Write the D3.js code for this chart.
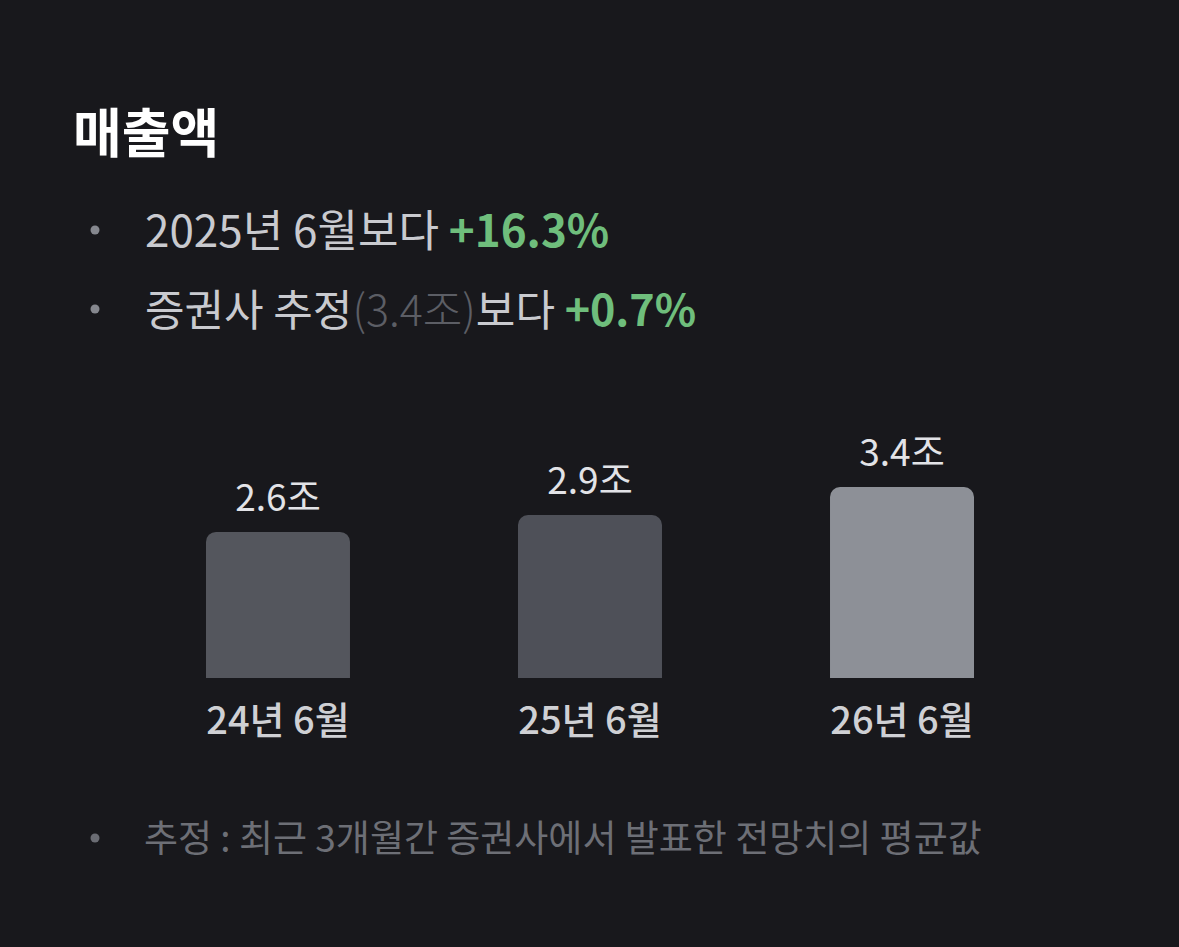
<!DOCTYPE html>
<html><head><meta charset="utf-8">
<script src="https://cdn.jsdelivr.net/npm/d3@7"></script>
<style>
html,body{margin:0;padding:0;background:#18181c;}
svg{display:block;}
text{font-family:"Noto Sans CJK KR","Noto Sans",sans-serif;}
</style></head>
<body>
<svg id="chart" width="1179" height="947"></svg>
<script>
const title = "매출액";
const categories = ["24년 6월", "25년 6월", "26년 6월"];
const values = [2.6, 2.9, 3.4];
const valueLabels = ["2.6조", "2.9조", "3.4조"];
const barColors = ["#54565d", "#4e5058", "#8d9097"];
const bullets = [
  [{t:"2025년 6월보다 ", c:"#c9cacf", w:400}, {t:"+16.3%", c:"#6fbe7c", w:600}],
  [{t:"증권사 추정", c:"#c9cacf", w:400}, {t:"(3.4조)", c:"#5c5e65", w:300}, {t:"보다 ", c:"#c9cacf", w:400}, {t:"+0.7%", c:"#6fbe7c", w:600}]
];
const footnote = "추정 : 최근 3개월간 증권사에서 발표한 전망치의 평균값";

const svg = d3.select("#chart");
svg.append("rect").attr("width",1179).attr("height",947).attr("fill","#18181c");

svg.append("text").attr("x",73).attr("y",153).attr("font-size",53).attr("font-weight",700)
  .attr("fill","#ffffff").text(title);

const lineY = [247, 326];
const sizes = [44, 43];
bullets.forEach((parts,i)=>{
  svg.append("circle").attr("cx",95).attr("cy",lineY[i]-17).attr("r",4.5).attr("fill","#85878e");
  const t = svg.append("text").attr("x",145).attr("y",lineY[i]).attr("font-size",sizes[i]);
  parts.forEach(p=>{
    t.append("tspan").attr("fill",p.c).attr("font-weight",p.w).attr("xml:space","preserve").text(p.t);
  });
});

const baseY = 678;
const x = d3.scaleBand().domain(categories).range([206, 974]).paddingInner(0.5385).paddingOuter(0);
const y = d3.scaleLinear().domain([0, 3.4]).range([baseY, 487]);
const r = 10;
const g = svg.append("g");
categories.forEach((c,i)=>{
  const x0 = x(c), w = x.bandwidth(), y0 = y(values[i]);
  const p = d3.path();
  p.moveTo(x0, baseY);
  p.lineTo(x0, y0 + r);
  p.arcTo(x0, y0, x0 + r, y0, r);
  p.lineTo(x0 + w - r, y0);
  p.arcTo(x0 + w, y0, x0 + w, y0 + r, r);
  p.lineTo(x0 + w, baseY);
  p.closePath();
  g.append("path").attr("d", p.toString()).attr("fill", barColors[i]);
  g.append("text").attr("x", x0 + w/2).attr("y", y0 - 21).attr("text-anchor","middle")
    .attr("font-size",37).attr("font-weight",400).attr("fill","#e2e3e7").text(valueLabels[i]);
  g.append("text").attr("x", x0 + w/2).attr("y", 734).attr("text-anchor","middle")
    .attr("font-size",38).attr("font-weight",500).attr("fill","#cfd0d4").text(c);
});

svg.append("circle").attr("cx",95).attr("cy",838).attr("r",4.5).attr("fill","#6a6c73");
svg.append("text").attr("x",144).attr("y",852).attr("font-size",37).attr("font-weight",400)
  .attr("fill","#6d6f76").text(footnote);
</script>
</body></html>
